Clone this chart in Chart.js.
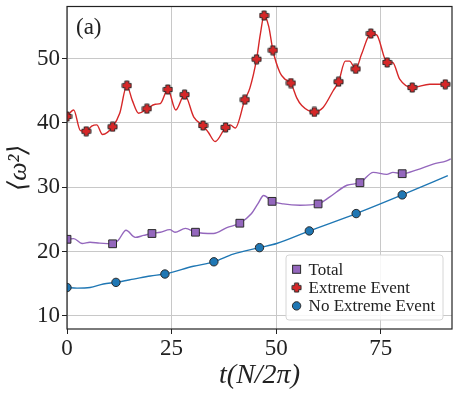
<!DOCTYPE html>
<html>
<head>
<meta charset="utf-8">
<script src="https://cdn.jsdelivr.net/npm/chart.js@4.4.1/dist/chart.umd.min.js"></script>
<style>
  body { margin: 0; background: #fff; }
  canvas { display: block; }
</style>
</head>
<body>
<canvas id="chart" width="459" height="394"></canvas>
<script>
// 축 눈금
const xTicks = [0, 25, 50, 75];
const yTicks = [10, 20, 30, 40, 50];

// Extreme Event (빨강) 곡선
const redT = [0, 1.6, 3.2, 4.6, 5.9, 7.1, 8.5, 10.9, 12.6, 14.3, 15.6, 17.1, 19.1, 21.1, 22.3, 24.1, 26.0, 28.1, 30.3, 32.5,
  33.8, 35.4, 37.9, 39.0, 40.2, 42.5, 43.7, 45.3, 46.2, 47.1, 48.2, 49.2, 50.9, 52.1, 53.5, 54.9, 56.1, 59.1, 61.2, 63.6,
  64.9, 66.5, 67.5, 69.0, 70.4, 72.6, 74.0, 76.5, 77.8, 79.5, 82.5, 86.7, 90.4, 91.5];
const redY = [41.0, 42.0, 38.8, 38.7, 39.5, 39.7, 38.2, 39.4, 41.5, 45.8, 43.5, 41.5, 42.2, 42.9, 43.0, 45.2, 42.0, 44.4, 40.9, 39.6,
  38.5, 37.1, 39.3, 39.7, 39.2, 43.6, 45.4, 49.9, 53.8, 56.7, 55.0, 51.3, 47.8, 46.8, 46.2, 43.9, 42.7, 41.7, 42.4, 45.0,
  46.4, 49.6, 49.6, 48.4, 50.7, 53.9, 53.7, 49.4, 49.4, 46.8, 45.5, 46.0, 46.0, 46.0];
const redMarkT = [0, 4.6, 10.9, 14.3, 19.1, 24.1, 28.1, 32.5, 37.9, 42.5, 45.3, 47.1, 49.2, 53.5, 59.1, 64.9, 69.0, 72.6, 76.5, 82.5, 90.4];
const redMarkY = [41.0, 38.7, 39.4, 45.8, 42.2, 45.2, 44.4, 39.6, 39.3, 43.6, 49.9, 56.7, 51.3, 46.2, 41.7, 46.4, 48.4, 53.9, 49.4, 45.5, 46.0];

// Total (보라) 곡선
const purT = [0, 1.6, 3.6, 5.5, 7.8, 10.9, 12.3, 14.1, 16.3, 18.3, 20.3, 22.3, 24.6, 25.8, 28.3, 30.7, 35.0, 38.2, 41.3, 44.1,
  45.6, 47.0, 49.0, 51.7, 55.7, 60.0, 62.8, 66.9, 70.0, 73.2, 76.4, 77.9, 80.1, 83.6, 87.5, 90.7, 91.7];
const purY = [21.9, 22.0, 21.25, 21.45, 21.3, 21.2, 21.8, 23.3, 22.2, 22.5, 22.8, 23.0, 23.4, 23.0, 23.6, 23.0, 22.8, 23.7, 24.4, 25.9,
  27.4, 28.7, 27.8, 27.4, 27.2, 27.4, 28.5, 30.3, 30.7, 32.3, 32.0, 32.3, 32.1, 32.7, 33.6, 34.1, 34.4];
const purMarkT = [0, 10.9, 20.3, 30.7, 41.3, 49.0, 60.0, 70.0, 80.1];
const purMarkY = [21.9, 21.2, 22.8, 23.0, 24.4, 27.8, 27.4, 30.7, 32.1];

// No Extreme Event (파랑) 곡선
const blueT = [0, 2.4, 5.5, 8.7, 11.7, 15.9, 19.9, 23.4, 30.2, 35.1, 39.7, 46.0, 50.1, 57.9, 69.1, 80.1, 91.0];
const blueY = [14.4, 14.3, 14.4, 14.95, 15.2, 15.7, 16.2, 16.5, 17.7, 18.4, 19.6, 20.6, 21.25, 23.2, 25.9, 28.8, 31.8];
const blueMarkT = [0, 11.7, 23.4, 35.1, 46.0, 57.9, 69.1, 80.1];
const blueMarkY = [14.4, 15.2, 16.5, 18.4, 20.6, 23.2, 25.9, 28.8];

const legendLabels = ['Total', 'Extreme Event', 'No Extreme Event'];

const RED = '#d62728', PURPLE = '#9467bd', BLUE = '#1f77b4', EDGE = '#2a2a2a';
const SERIF = "'Liberation Serif', 'DejaVu Serif', serif";

function pts(xs, ys) {
  return xs.map((x, i) => ({ x: x, y: ys[i] }));
}

// 채워진 + 마커
function plusMarker(size) {
  const c = document.createElement('canvas');
  c.width = c.height = size;
  const g = c.getContext('2d');
  const m = size / 2, a = size * 0.19, r = size / 2 - 1;
  g.beginPath();
  g.moveTo(m - a, m - r); g.lineTo(m + a, m - r); g.lineTo(m + a, m - a);
  g.lineTo(m + r, m - a); g.lineTo(m + r, m + a); g.lineTo(m + a, m + a);
  g.lineTo(m + a, m + r); g.lineTo(m - a, m + r); g.lineTo(m - a, m + a);
  g.lineTo(m - r, m + a); g.lineTo(m - r, m - a); g.lineTo(m - a, m - a);
  g.closePath();
  g.fillStyle = RED; g.fill();
  g.lineWidth = 1; g.strokeStyle = EDGE; g.stroke();
  return c;
}
const plusImg = plusMarker(11);

function lineSet(xs, ys, color) {
  return {
    data: pts(xs, ys), showLine: true, pointRadius: 0, borderColor: color,
    borderWidth: 1.4, cubicInterpolationMode: 'monotone', clip: 0
  };
}
function markSet(xs, ys, style, radius, color) {
  return {
    data: pts(xs, ys), showLine: false, pointStyle: style, pointRadius: radius,
    backgroundColor: color, borderColor: EDGE, borderWidth: 1, clip: 0
  };
}

// 라벨 여백 때문에 차트 영역이 밀리지 않게
function noPad(s) {
  s.paddingTop = 0; s.paddingBottom = 0; s.paddingLeft = 0; s.paddingRight = 0;
}

// 테두리, (a) 표시, 범례
const decor = {
  id: 'decor',
  afterDatasetsDraw(chart) {
    const ctx = chart.ctx, a = chart.chartArea;
    ctx.save();
    ctx.strokeStyle = '#222';
    ctx.lineWidth = 1.2;
    ctx.strokeRect(a.left, a.top, a.right - a.left, a.bottom - a.top);

    ctx.fillStyle = '#222';
    ctx.font = '23px ' + SERIF;
    ctx.textBaseline = 'alphabetic';
    ctx.fillText('(a)', a.left + 9, a.top + 27);

    const w = 157, h = 65;
    const bx = a.right - 9 - w, by = a.bottom - 9 - h;
    ctx.beginPath();
    ctx.roundRect(bx, by, w, h, 3);
    ctx.fillStyle = 'rgba(255,255,255,0.85)';
    ctx.fill();
    ctx.strokeStyle = '#d6d6d6';
    ctx.lineWidth = 1;
    ctx.stroke();

    ctx.font = '17px ' + SERIF;
    ctx.textBaseline = 'middle';
    legendLabels.forEach((lab, i) => {
      const y = by + 14.3 + i * 18.3, x = bx + 10.6;
      ctx.lineWidth = 1;
      ctx.strokeStyle = EDGE;
      if (i === 0) {
        ctx.fillStyle = PURPLE;
        ctx.fillRect(x - 4, y - 4, 8, 8);
        ctx.strokeRect(x - 4, y - 4, 8, 8);
      } else if (i === 1) {
        ctx.drawImage(plusImg, x - 5.5, y - 5.5);
      } else {
        ctx.beginPath();
        ctx.arc(x, y, 4.2, 0, Math.PI * 2);
        ctx.fillStyle = BLUE;
        ctx.fill();
        ctx.stroke();
      }
      ctx.fillStyle = '#222';
      ctx.fillText(lab, bx + 22.6, y + 1);
    });
    ctx.restore();
  }
};

new Chart(document.getElementById('chart'), {
  type: 'scatter',
  data: {
    datasets: [
      markSet(purMarkT, purMarkY, 'rect', 5.5, PURPLE),
      markSet(redMarkT, redMarkY, plusImg, 5, RED),
      markSet(blueMarkT, blueMarkY, 'circle', 4.2, BLUE),
      lineSet(purT, purY, PURPLE),
      lineSet(redT, redY, RED),
      lineSet(blueT, blueY, BLUE)
    ]
  },
  options: {
    responsive: false,
    animation: false,
    devicePixelRatio: 1,
    layout: { padding: { left: 0, top: 5, right: 7, bottom: 0 } },
    plugins: { legend: { display: false }, tooltip: { enabled: false } },
    scales: {
      x: {
        type: 'linear', min: 0, max: 92,
        afterBuildTicks: s => { s.ticks = xTicks.map(v => ({ value: v })); },
        afterFit: s => { s.height = 65; noPad(s); },
        grid: { color: '#c8c8c8', tickColor: '#222', tickLength: 5, lineWidth: 1 },
        border: { display: false },
        ticks: { color: '#222', font: { family: SERIF, size: 23 }, padding: 1, maxRotation: 0 },
        title: {
          display: true, text: 't(N/2π)', color: '#222',
          font: { family: SERIF, size: 28, style: 'italic' }, padding: { top: 0, bottom: 2 }
        }
      },
      y: {
        type: 'linear', min: 7.95, max: 58.1,
        afterBuildTicks: s => { s.ticks = yTicks.map(v => ({ value: v })); },
        afterFit: s => { s.width = 67; noPad(s); },
        grid: { color: '#c8c8c8', tickColor: '#222', tickLength: 5, lineWidth: 1 },
        border: { display: false },
        ticks: { color: '#222', font: { family: SERIF, size: 23 }, padding: 2 },
        title: {
          display: true, text: '⟨ω²⟩', color: '#222',
          font: { family: SERIF, size: 26, style: 'italic' }, padding: { top: 4, bottom: 0 }
        }
      }
    }
  },
  plugins: [decor]
});
</script>
</body>
</html>
